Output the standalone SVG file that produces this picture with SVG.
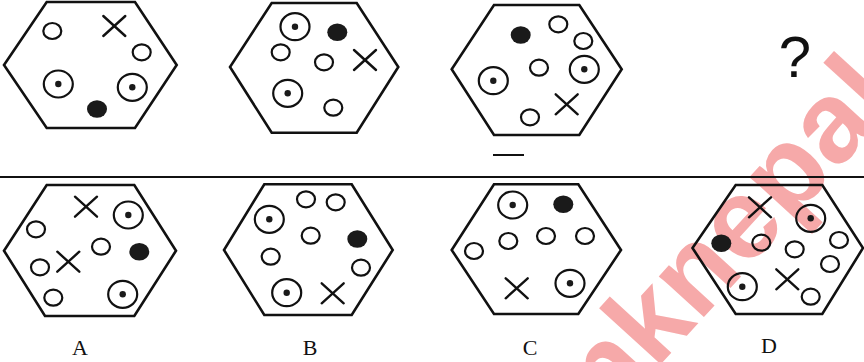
<svg xmlns="http://www.w3.org/2000/svg" width="864" height="362" viewBox="0 0 864 362">
<style>
.hex{fill:none;stroke:#111;stroke-width:2.6;stroke-linejoin:miter}
.o{fill:none;stroke:#111;stroke-width:2.2}
.f{fill:#1a1a1a}
.x{stroke:#111;stroke-width:2.4;stroke-linecap:round}
.lbl{font-family:"Liberation Serif","Times New Roman",serif;font-size:22px;fill:#111;text-anchor:middle}
.wm{font-family:"Liberation Sans",Arial,sans-serif;font-weight:bold;font-size:115px;fill:#f6a9a9}
</style>
<defs>
<ellipse id="o" class="o" cx="0" cy="0" rx="9" ry="8"/>
<g id="d"><ellipse class="o" cx="0" cy="0" rx="14.5" ry="13.5"/><circle class="f" cx="0" cy="0" r="3.2"/></g>
<ellipse id="b" class="f" cx="0" cy="0" rx="10" ry="8.8"/>
<g id="x"><line class="x" x1="-11" y1="-10" x2="11" y2="10"/><line class="x" x1="11" y1="-10" x2="-11" y2="10"/></g>
</defs>
<rect width="864" height="362" fill="#fff"/>
<text class="wm" transform="translate(608,422) rotate(-47.6)">nknepal</text>
<line x1="0" y1="177" x2="864" y2="177" stroke="#111" stroke-width="2"/>
<line x1="493" y1="155" x2="524" y2="155" stroke="#111" stroke-width="2"/>
<g id="fig1">
<polygon class="hex" points="46.7,2 135,2 176.7,65 135,128 46.7,128 4,65"/>
<use href="#o" x="52.3" y="31"/>
<use href="#x" x="114.3" y="26"/>
<use href="#o" x="141.7" y="52.3"/>
<use href="#d" x="58.3" y="84"/>
<use href="#d" x="132.3" y="87.3"/>
<use href="#b" x="97" y="109"/>
</g>
<g id="fig2">
<polygon class="hex" points="271.7,3 356.7,3 398.3,67 356.7,132.7 271.7,132.7 230,67"/>
<use href="#d" x="295" y="26.7"/>
<use href="#b" x="337.3" y="32.3"/>
<use href="#o" x="280.7" y="52.3"/>
<use href="#o" x="324" y="62.3"/>
<use href="#x" x="365" y="60"/>
<use href="#d" x="287.7" y="93.3"/>
<use href="#o" x="333.3" y="107.7"/>
</g>
<g id="fig3">
<polygon class="hex" points="494,5 579.3,5 621.7,69.3 579.3,135 494,135 451.7,69.3"/>
<use href="#b" x="520.7" y="35"/>
<use href="#o" x="558.3" y="24.3"/>
<use href="#o" x="583.3" y="41"/>
<use href="#o" x="539" y="67.7"/>
<use href="#d" x="584.3" y="69.3"/>
<use href="#d" x="493.3" y="80.7"/>
<use href="#x" x="566.7" y="104.3"/>
<use href="#o" x="530" y="117.3"/>
</g>
<g id="question">
<text x="795" y="77" font-family="'Liberation Sans',Arial,sans-serif" font-size="58" fill="#111" text-anchor="middle">?</text>
</g>
<g id="optA">
<polygon class="hex" points="46.7,185 134.3,185 176,250.7 134.3,316 45,316 4,250.7"/>
<use href="#x" x="86" y="206.7"/>
<use href="#d" x="128.3" y="215"/>
<use href="#o" x="36" y="229.3"/>
<use href="#o" x="101" y="246.7"/>
<use href="#b" x="139.3" y="251.7"/>
<use href="#o" x="40" y="267.3"/>
<use href="#x" x="68.3" y="261.7"/>
<use href="#o" x="53.3" y="297.7"/>
<use href="#d" x="122.7" y="294.3"/>
<text class="lbl" x="80" y="355">A</text>
</g>
<g id="optB">
<polygon class="hex" points="264.3,184.3 351.7,184.3 392.7,250 351.7,315 264.3,315 224,250"/>
<use href="#o" x="306" y="199.3"/>
<use href="#o" x="335.7" y="202.3"/>
<use href="#d" x="269.3" y="219.3"/>
<use href="#o" x="310.7" y="235.7"/>
<use href="#b" x="357.3" y="239"/>
<use href="#o" x="270.7" y="256.7"/>
<use href="#o" x="361" y="267.7"/>
<use href="#d" x="286.7" y="292.7"/>
<use href="#x" x="332.7" y="293.3"/>
<text class="lbl" x="310" y="355">B</text>
</g>
<g id="optC">
<polygon class="hex" points="494,184.3 578.3,184.3 621,250 578.3,314 494,314 451.7,250"/>
<use href="#d" x="512.7" y="205"/>
<use href="#b" x="563.3" y="204.3"/>
<use href="#o" x="508.3" y="241"/>
<use href="#o" x="546" y="236"/>
<use href="#o" x="585" y="236"/>
<use href="#o" x="474" y="251"/>
<use href="#x" x="516.7" y="288.3"/>
<use href="#d" x="570" y="283.3"/>
<text class="lbl" x="530" y="355">C</text>
</g>
<g id="optD">
<polygon class="hex" points="735.7,185 822.3,185 863,248 822.3,314 735.7,314 692.5,248"/>
<use href="#x" x="760" y="207.3"/>
<use href="#d" x="810.7" y="218.3"/>
<use href="#o" x="839" y="240"/>
<use href="#b" x="721.3" y="243.3"/>
<use href="#o" x="761.3" y="242.7"/>
<use href="#o" x="794.7" y="249.3"/>
<use href="#o" x="830" y="264"/>
<use href="#d" x="742.3" y="286.7"/>
<use href="#x" x="787.3" y="279.3"/>
<use href="#o" x="810.7" y="296.7"/>
<text class="lbl" x="769" y="353">D</text>
</g>
</svg>
